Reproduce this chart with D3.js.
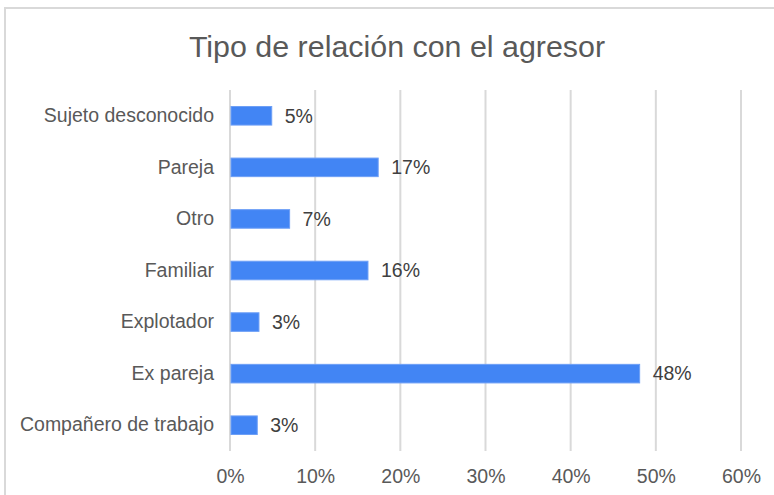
<!DOCTYPE html>
<html>
<head>
<meta charset="utf-8">
<script src="https://cdn.jsdelivr.net/npm/d3@7"></script>
<style>
  body { margin: 0; background: #fff; }
  text { font-family: "Liberation Sans", Arial, sans-serif; }
</style>
</head>
<body>
<div id="chart"></div>
<script>
// data (top to bottom)
const categories = ["Sujeto desconocido", "Pareja", "Otro", "Familiar", "Explotador", "Ex pareja", "Compañero de trabajo"];
const values = [4.9, 17.4, 7.0, 16.2, 3.4, 48.1, 3.2];
const tickValues = [0, 10, 20, 30, 40, 50, 60];

const width = 774, height = 495;
const margin = {top: 90, right: 33, bottom: 44, left: 230};

const svg = d3.select("#chart").append("svg")
    .attr("width", width)
    .attr("height", height);

// chart frame
svg.append("rect")
    .attr("x", 5).attr("y", 8)
    .attr("width", width + 10).attr("height", height + 10)
    .attr("fill", "none")
    .attr("stroke", "#d9d9d9")
    .attr("stroke-width", 2);

// title
svg.append("text")
    .attr("x", 397).attr("y", 57)
    .attr("text-anchor", "middle")
    .style("font-size", "30.4px")
    .style("fill", "#595959")
    .text("Tipo de relación con el agresor");

const x = d3.scaleLinear()
    .domain([0, 60])
    .range([margin.left, width - margin.right]);

const y = d3.scaleBand()
    .domain(categories)
    .range([margin.top, height - margin.bottom])
    .paddingInner(0.64)
    .paddingOuter(0.32);

// gridlines
svg.append("g")
    .selectAll("line")
    .data(tickValues)
    .enter()
    .append("line")
    .attr("x1", d => x(d)).attr("x2", d => x(d))
    .attr("y1", margin.top).attr("y2", height - margin.bottom)
    .attr("stroke", "#d9d9d9")
    .attr("stroke-width", 2);

// x axis tick labels
const xAxis = d3.axisBottom(x)
    .tickValues(tickValues)
    .tickFormat(d => d + "%")
    .tickSize(0)
    .tickPadding(18);

const gx = svg.append("g")
    .attr("transform", `translate(0,${height - margin.bottom})`)
    .call(xAxis);
gx.select(".domain").remove();
gx.selectAll("text")
    .style("font-size", "19.5px")
    .style("fill", "#595959")
    .style("font-family", "'Liberation Sans', Arial, sans-serif");

// y axis category labels
const yAxis = d3.axisLeft(y).tickSize(0).tickPadding(16);
const gy = svg.append("g")
    .attr("transform", `translate(${margin.left},0)`)
    .call(yAxis);
gy.select(".domain").remove();
gy.selectAll("text")
    .style("font-size", "19.5px")
    .style("fill", "#595959")
    .style("font-family", "'Liberation Sans', Arial, sans-serif");

// bars
const rows = categories.map((c, i) => ({cat: c, val: values[i]}));

svg.append("g")
    .selectAll("rect")
    .data(rows)
    .enter()
    .append("rect")
    .attr("x", x(0) + 1)
    .attr("y", d => y(d.cat))
    .attr("width", d => x(d.val) - x(0) - 1)
    .attr("height", y.bandwidth())
    .attr("fill", "#4285F4")
    .attr("stroke", "#6d9ff6")
    .attr("stroke-width", 1);

// value labels
svg.append("g")
    .selectAll("text")
    .data(rows)
    .enter()
    .append("text")
    .attr("x", d => x(d.val) + 13)
    .attr("y", d => y(d.cat) + y.bandwidth() / 2)
    .attr("dy", "0.35em")
    .style("font-size", "19.5px")
    .style("fill", "#404040")
    .text(d => Math.round(d.val) + "%");
</script>
</body>
</html>
